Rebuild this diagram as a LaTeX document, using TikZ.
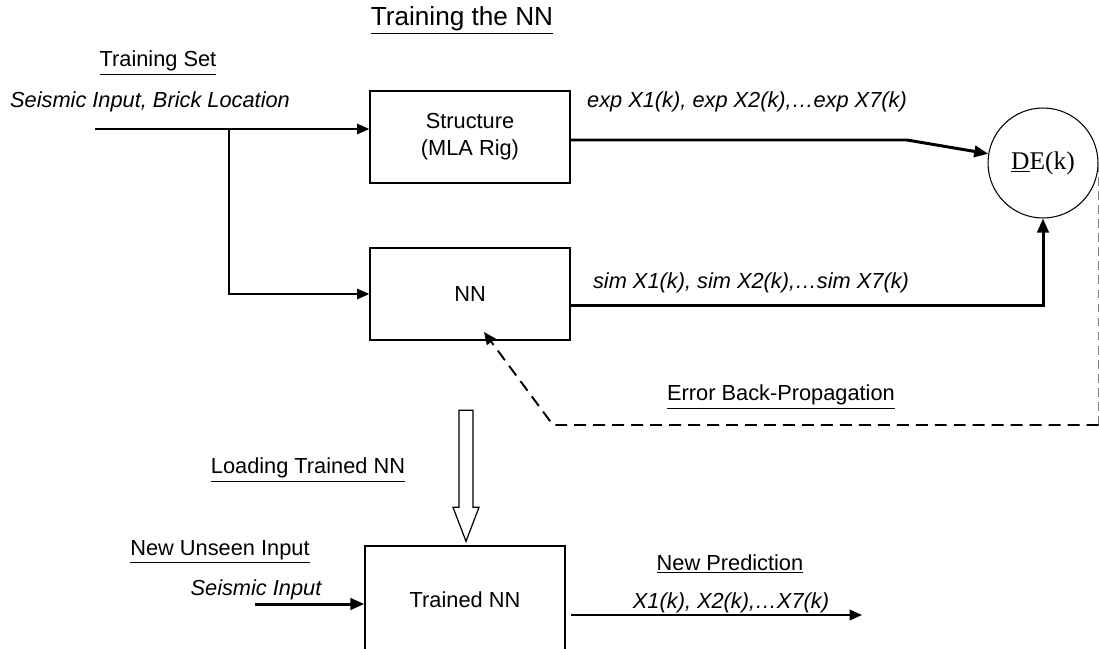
\documentclass[tikz,border=0pt]{standalone}
\usepackage{fontspec}
\setmainfont{Liberation Sans}
\newfontfamily\serifrm{Liberation Serif}
\usetikzlibrary{arrows.meta, positioning, calc}
\definecolor{feedgray}{RGB}{130,130,130}
\newcommand{\lblfont}{\fontsize{12.4}{15.3}\selectfont}
\newcommand{\ttlfont}{\fontsize{14.9}{17}\selectfont}

\begin{document}
\begin{tikzpicture}[x=0.02cm, y=-0.02cm,
    box/.style={draw, line width=0.8pt, minimum width=4cm, minimum height=1.84cm, align=center, font=\lblfont},
    lbl/.style={inner sep=0pt, font=\lblfont},
    ital/.style={inner sep=0pt, font=\lblfont\itshape},
    thinline/.style={line width=0.8pt},
    thickline/.style={line width=1.7pt},
    tip/.style={-{Triangle[length=7pt, width=6pt]}},
    bigtip/.style={-{Triangle[length=8pt, width=6.5pt]}}]
    \clip (0,0) rectangle (1099,649);

    % Title
    \node[inner sep=0pt, font=\ttlfont] (ttl) at (462,20) {\underline{Training the NN}};

    % Training stage
    \node[box] (struct) at (470,137) {Structure\\(MLA Rig)};
    \node[box] (nn) at (470,294) {NN};
    \node[circle, draw, line width=0.6pt, minimum size=2.2cm, inner sep=0pt, font=\serifrm\fontsize{14.5}{16}\selectfont] (de) at (1043,163) {\underline{D}E(k)};

    \node[lbl] (tset) at (158,63) {\underline{Training Set}};
    \node[ital] (tsetin) at (150,102) {Seismic Input, Brick Location};
    \node[ital] (explbl) at (747,102) {exp X1(k), exp X2(k),…exp X7(k)};
    \node[ital] (simlbl) at (751,283) {sim X1(k), sim X2(k),…sim X7(k)};
    \node[lbl] (ebp) at (781,397) {\underline{Error Back-Propagation}};

    \coordinate (tsin) at (95,129);
    \coordinate (split) at (229,129);
    \coordinate (bend) at (907,140);
    \coordinate (nnhit) at (484,332);
    \coordinate (fbl) at (553,425);

    \draw[thinline, tip] (tsin) -- (tsin -| struct.west);
    \draw[thinline, tip] (split) |- (nn.west);
    \draw[thickline, bigtip] (struct.east |- bend) -- (bend) -- (de);
    \draw[thickline, bigtip] ([yshift=-6.8pt]nn.east) -| (de.south);

    % Error feedback
    \draw[feedgray, line width=0.6pt, dash pattern=on 5pt off 3pt] (de.east) -- (de.east |- fbl);
    \draw[line width=1.1pt, dash pattern=on 6.8pt off 4pt, tip] (de.east |- fbl) -- (fbl) -- (nnhit);

    % Trained network
    \node[box, minimum height=2.16cm] (tnn) at (465,600) {Trained NN};
    \node[lbl] (ltn) at (308,470) {\underline{Loading Trained NN}};
    \node[lbl] (nui) at (220,552) {\underline{New Unseen Input}};
    \node[ital] (sin) at (256,590) {Seismic Input};
    \node[lbl] (npred) at (730,564) {\underline{New Prediction}};
    \node[ital] (xlbl) at (731,603) {X1(k), X2(k),…X7(k)};

    \coordinate (ltip) at ($(tnn.north)+(1,-4)$);
    \draw[line width=0.7pt] (ltip) -- ++(13,-34) -- ++(-6,0) -- ++(0,-97) -- ++(-14,0) -- ++(0,97) -- ++(-6,0) -- cycle;

    \coordinate (tnin) at (255,604);
    \coordinate (predout) at (862,615);
    \draw[thickline, bigtip] (tnin) -- (tnin -| tnn.west);
    \draw[line width=1.1pt, tip, shorten <=3pt] (tnn.east |- predout) -- (predout);
\end{tikzpicture}
\end{document}
